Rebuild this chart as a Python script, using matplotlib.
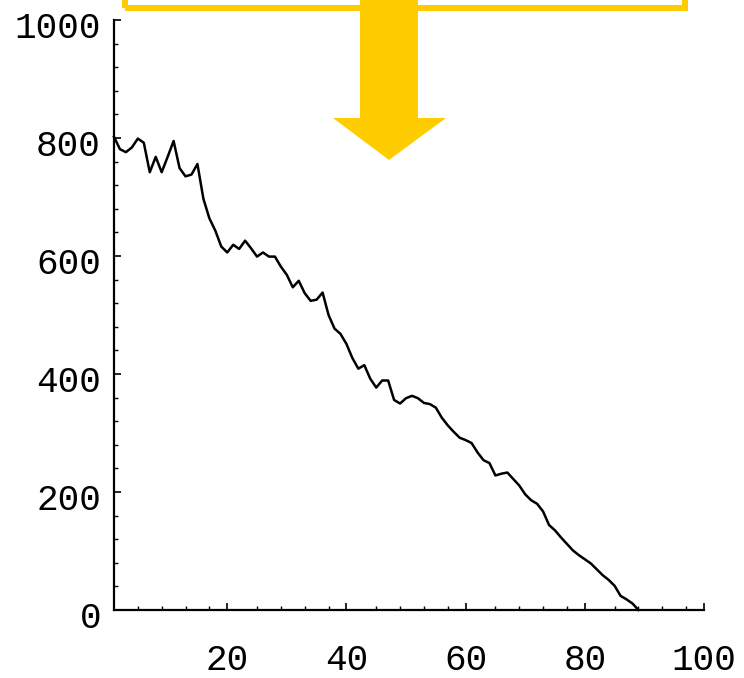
import matplotlib
matplotlib.use("Agg")
import matplotlib.pyplot as plt
from matplotlib.patches import Rectangle, Polygon
import numpy as np

# remaining count per step
steps = np.arange(1, 90)
counts = [802, 781, 776, 784, 799, 792, 742, 768, 742, 768,
          795, 749, 735, 738, 756, 697, 664, 643, 616, 606,
          619, 612, 626, 613, 599, 606, 599, 599, 582, 568,
          547, 558, 537, 524, 526, 538, 500, 477, 468, 451,
          427, 409, 415, 392, 377, 389, 389, 356, 350, 359,
          363, 359, 351, 349, 343, 326, 313, 302, 292, 288,
          283, 267, 254, 249, 228, 231, 233, 222, 211, 196,
          186, 180, 167, 144, 135, 123, 112, 101, 93, 86,
          79, 69, 59, 51, 41, 24, 18, 11, 0]

x_major = [20, 40, 60, 80, 100]
x_minor = [v for v in range(5, 100, 4) if min(abs(v - m) for m in x_major) > 1.5]
y_major = [0, 200, 400, 600, 800, 1000]
y_minor = [v for v in range(40, 1000, 40) if v % 200]

W, H = 744, 678
yellow = "#ffcc00"
font = "Liberation Mono"

fig = plt.figure(figsize=(W / 100, H / 100), dpi=100)
ax = fig.add_axes([114 / W, 68 / H, 590 / W, 590 / H])
ax.set_xlim(1, 100)
ax.set_ylim(0, 1000)

ax.plot(steps, counts, color="black", lw=1.8, clip_on=False, zorder=3)

for s in ["top", "right"]:
    ax.spines[s].set_visible(False)
for s in ["left", "bottom"]:
    ax.spines[s].set_linewidth(1.6)

ax.set_xticks(x_major)
ax.set_xticks(x_minor, minor=True)
ax.set_yticks(y_major)
ax.set_yticks(y_minor, minor=True)
ax.tick_params(which="major", direction="in", length=5, width=1.2,
               labelbottom=False, labelleft=False)
ax.tick_params(which="minor", direction="in", length=3, width=1)

# tick labels, placed by hand so they sit a bit low
for v in y_major:
    ax.annotate(str(v), xy=(1, v), xytext=(-13, -8), textcoords="offset pixels",
                ha="right", va="center", fontsize=26, family=font)
for v in x_major:
    ax.annotate(str(v), xy=(v, 0), xytext=(0, -50), textcoords="offset pixels",
                ha="center", va="center", fontsize=26, family=font)


def px(x, y):
    return (x / W, 1 - y / H)


# yellow box outline at the top
box = Rectangle(px(125, 7.5), 560 / W, 80 / H, transform=fig.transFigure,
                facecolor="none", edgecolor=yellow, lw=4.3, zorder=5)
fig.patches.append(box)

# downward arrow
arrow_pts = [(360, -10), (418, -10), (418, 118), (446, 118),
             (389, 160), (333, 118), (360, 118)]
arrow = Polygon([px(a, b) for a, b in arrow_pts], closed=True,
                transform=fig.transFigure, facecolor=yellow, edgecolor="none",
                zorder=6)
fig.patches.append(arrow)

fig.savefig("out.png", dpi=100, facecolor="white")
